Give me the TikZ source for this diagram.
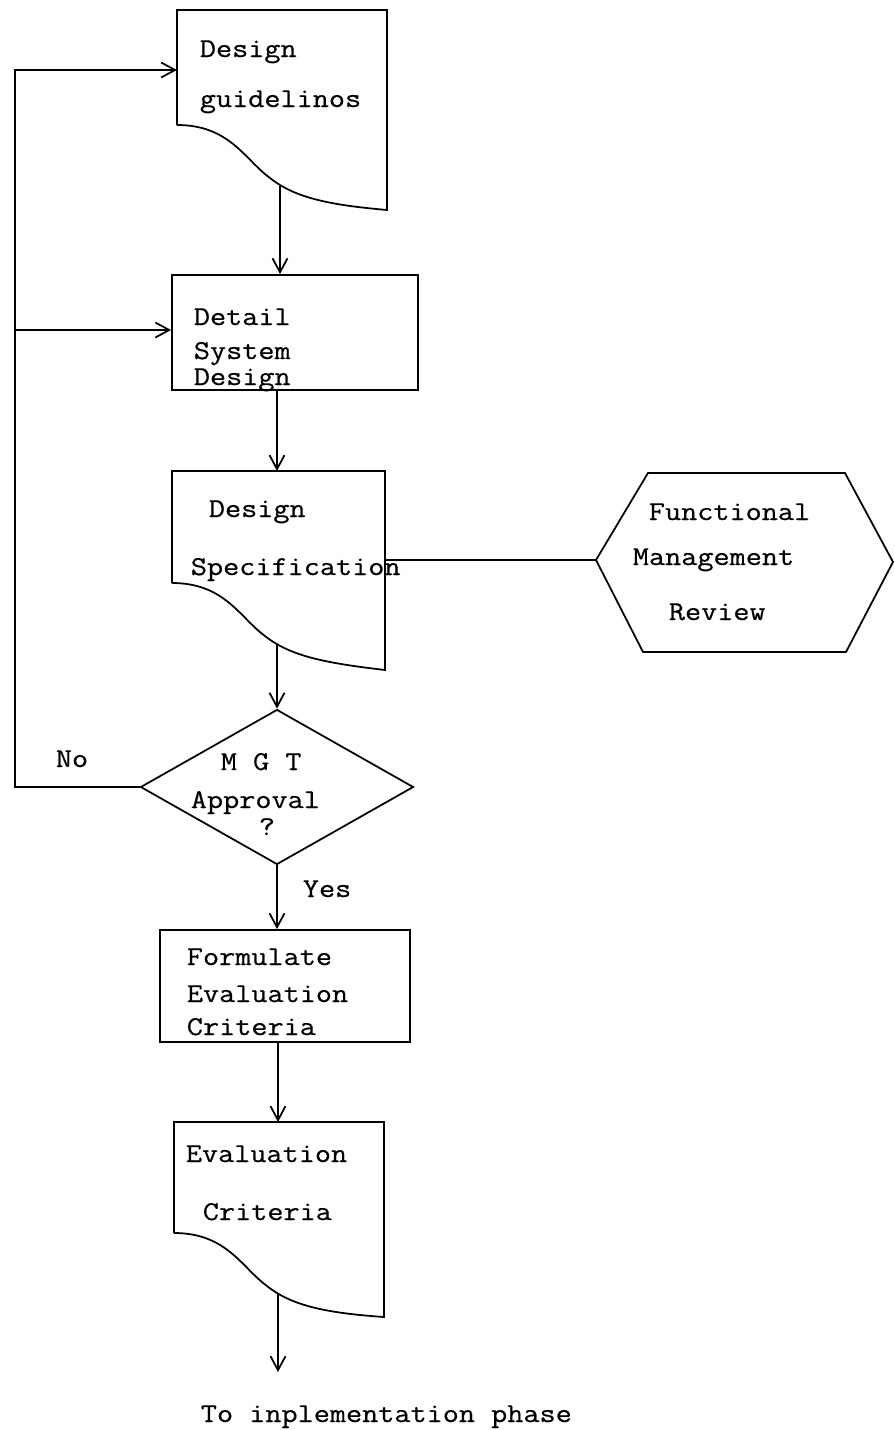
\documentclass[tikz,border=0pt]{standalone}
\usepackage{fontspec}
\setmonofont{Latin Modern Mono}[FakeStretch=1.15,FakeBold=0.6]
\usetikzlibrary{arrows.meta,shapes.geometric}
\tikzset{
  lbl/.style={anchor=base west, inner sep=0pt},
  box/.style={draw, inner sep=0pt},
}
\begin{document}
\begin{tikzpicture}[x=0.02cm, y=-0.02cm, line width=1pt,
    >={Straight Barb[length=2.8mm,width=3mm]},
    font=\ttfamily\fontsize{15.5}{18}\selectfont]
      \useasboundingbox (0,0) rectangle (894,1430);
      % design guidelines (document)
      \draw (177,125) -- (177,10) -- (387,10) -- (387,210)
        .. controls (330,205) and (295,198) .. (270,178)
        .. controls (245,160) and (230,125) .. (177,125);
      \coordinate (dg-in) at (177,70);
      \coordinate (dg-out) at (280,186);
      \node[lbl] (dg1) at (199,57) {Design};
      \node[lbl] (dg2) at (199,107) {guidelinos};
      % detail system design
      \node[box, minimum width=4.92cm, minimum height=2.3cm] (dsd) at (295,332.5) {};
      \node[lbl] (dsd1) at (193,325) {Detail};
      \node[lbl] (dsd2) at (193,359) {System};
      \node[lbl] (dsd3) at (193,385) {Design};
      % design specification (document)
      \draw (172,583) -- (172,471) -- (385,471) -- (385,670)
        .. controls (325,663) and (290,656) .. (265,636)
        .. controls (240,618) and (225,583) .. (172,583);
      \coordinate (ds-top) at (277,471);
      \coordinate (ds-e) at (385,560);
      \coordinate (ds-out) at (277,645);
      \node[lbl] (ds1) at (208,517) {Design};
      \node[lbl] (ds2) at (190,575) {Specification};
      % functional management review
      \draw (596,560) -- (648,473) -- (845,473) -- (893,562) -- (846,652) -- (643,652) -- cycle;
      \coordinate (fmr-w) at (596,560);
      \node[lbl] (fmr1) at (648,520) {Functional};
      \node[lbl] (fmr2) at (632,565) {Management};
      \node[lbl] (fmr3) at (668,620) {Review};
      % approval
      \node[diamond, box, minimum width=5.46cm, minimum height=3.1cm] (mgt) at (277,787) {};
      \node[lbl] (mgt1) at (220,770) {M G T};
      \node[lbl] (mgt2) at (190,808) {Approval};
      \node[lbl] (mgt3) at (258,835) {?};
      \node[lbl] (no) at (55,767) {No};
      \node[lbl] (yes) at (302,897) {Yes};
      % formulate evaluation criteria
      \node[box, minimum width=5cm, minimum height=2.24cm] (fec) at (285,986) {};
      \node[lbl] (fec1) at (186,965) {Formulate};
      \node[lbl] (fec2) at (186,1002) {Evaluation};
      \node[lbl] (fec3) at (186,1035) {Criteria};
      % evaluation criteria (document)
      \draw (174,1233) -- (174,1122) -- (384,1122) -- (384,1317)
        .. controls (327,1313) and (292,1306) .. (267,1286)
        .. controls (242,1268) and (227,1233) .. (174,1233);
      \coordinate (ec-top) at (278,1122);
      \coordinate (ec-out) at (278,1294);
      \node[lbl] (ec1) at (185,1162) {Evaluation};
      \node[lbl] (ec2) at (202,1220) {Criteria};
      \coordinate (end) at (278,1372);
      \node[lbl] (impl) at (200,1422) {To inplementation phase};
      % connectors
      \draw[->] (dg-out) -- (dg-out |- dsd.north);
      \draw[->] (dsd.south -| ds-top) -- (ds-top);
      \draw (ds-e) -- (fmr-w);
      \draw[->] (ds-out) -- (mgt.north);
      \draw[->] (mgt.south) -- (mgt.south |- fec.north);
      \draw[->] (fec.south -| ec-top) -- (ec-top);
      \draw[->] (ec-out) -- (end);
      % no branch back
      \coordinate (fb) at (15,330);
      \draw[->] (mgt.west) -| (fb) |- (dg-in);
      \draw[->] (fb) -- (dsd.west |- fb);
\end{tikzpicture}
\end{document}
